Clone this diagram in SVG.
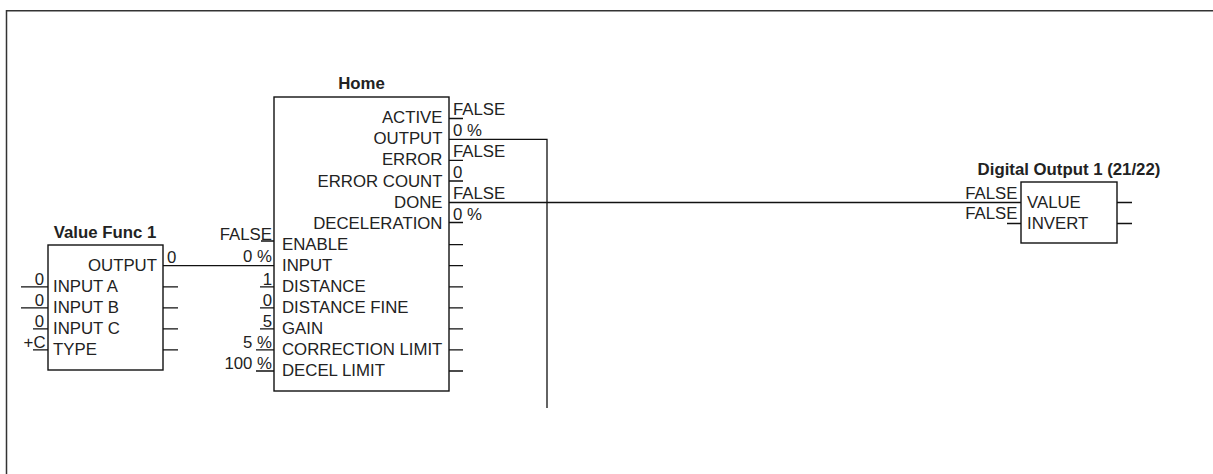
<svg xmlns="http://www.w3.org/2000/svg" width="1213" height="474" viewBox="0 0 1213 474">
<style>
.bx{fill:#fff;stroke:#111;stroke-width:1.4}
.ln{fill:none;stroke:#111;stroke-width:1.3}
.fr{fill:none;stroke:#333;stroke-width:1.5}
text{font-family:"Liberation Sans",Arial,sans-serif;font-size:16.8px;fill:#222}
.t{font-weight:bold;text-anchor:middle}
.e{text-anchor:end}
</style>
<rect x="0" y="0" width="1213" height="474" fill="#fff"/>
<path class="fr" d="M6.5,474 V10.8 H1213"/>

<g id="connectors">
<path class="ln" d="M163,265.7 H274"/>
<path class="ln" d="M449,139.4 H547 V408"/>
<path class="ln" d="M449,202.5 H1021"/>
</g>

<g id="value-func-1">
<text class="t" x="105" y="238">Value Func 1</text>
<rect class="bx" x="48" y="245" width="115" height="125"/>
<text class="e" x="157" y="270.7">OUTPUT</text>
<text x="167" y="263">0</text>
<text x="53" y="291.8">INPUT A</text>
<text x="53" y="312.8">INPUT B</text>
<text x="53" y="333.9">INPUT C</text>
<text x="53" y="354.9">TYPE</text>
<text class="e" x="44" y="284.5">0</text>
<text class="e" x="44" y="305.5">0</text>
<text class="e" x="44" y="326.5">0</text>
<text class="e" x="45.5" y="347.5">+C</text>
<path class="ln" d="M21,286.8 H48 M21,307.8 H48 M33,328.9 H48 M33,349.9 H48"/>
<path class="ln" d="M163,286.8 H178 M163,307.8 H178 M163,328.9 H178 M163,349.9 H178"/>
</g>

<g id="home">
<text class="t" x="361.5" y="89">Home</text>
<rect class="bx" x="274" y="97" width="175" height="294"/>
<text class="e" x="442.5" y="123.3">ACTIVE</text>
<text class="e" x="442.5" y="144.4">OUTPUT</text>
<text class="e" x="442.5" y="165">ERROR</text>
<text class="e" x="442.5" y="186.5">ERROR COUNT</text>
<text class="e" x="442.5" y="207.5">DONE</text>
<text class="e" x="442.5" y="228.6">DECELERATION</text>
<text x="453" y="115">FALSE</text>
<text x="453" y="136">0 %</text>
<text x="453" y="157">FALSE</text>
<text x="453" y="177.5">0</text>
<text x="453" y="199">FALSE</text>
<text x="453" y="219.5">0 %</text>
<path class="ln" d="M449,118.5 H463 M449,160.4 H463 M449,181 H463 M449,222.5 H463"/>
<text x="282" y="249.7">ENABLE</text>
<text x="282" y="270.7">INPUT</text>
<text x="282" y="291.8">DISTANCE</text>
<text x="282" y="312.8">DISTANCE FINE</text>
<text x="282" y="333.9">GAIN</text>
<text x="282" y="354.9">CORRECTION LIMIT</text>
<text x="282" y="376">DECEL LIMIT</text>
<text class="e" x="272" y="239.5">FALSE</text>
<text class="e" x="272" y="262">0 %</text>
<text class="e" x="272" y="284.5">1</text>
<text class="e" x="272" y="305.5">0</text>
<text class="e" x="272" y="326.5">5</text>
<text class="e" x="272" y="347.5">5 %</text>
<text class="e" x="272" y="368.5">100 %</text>
<path class="ln" d="M261,241 H274 M260,286.8 H274 M260,307.8 H274 M260,328.9 H274 M256,349.9 H274 M256,371 H274"/>
<path class="ln" d="M449,244.7 H463 M449,265.7 H463 M449,286.8 H463 M449,307.8 H463 M449,328.9 H463 M449,349.9 H463 M449,371 H463"/>
</g>

<g id="digital-output-1">
<text class="t" x="1069" y="175">Digital Output 1 (21/22)</text>
<rect class="bx" x="1021" y="182" width="96" height="61"/>
<text x="1027" y="207.5">VALUE</text>
<text x="1027" y="228.5">INVERT</text>
<text class="e" x="1017.5" y="198.5">FALSE</text>
<text class="e" x="1017.5" y="218.5">FALSE</text>
<path class="ln" d="M1007,223.5 H1021 M1117,202.5 H1132 M1117,223.5 H1132"/>
</g>
</svg>
